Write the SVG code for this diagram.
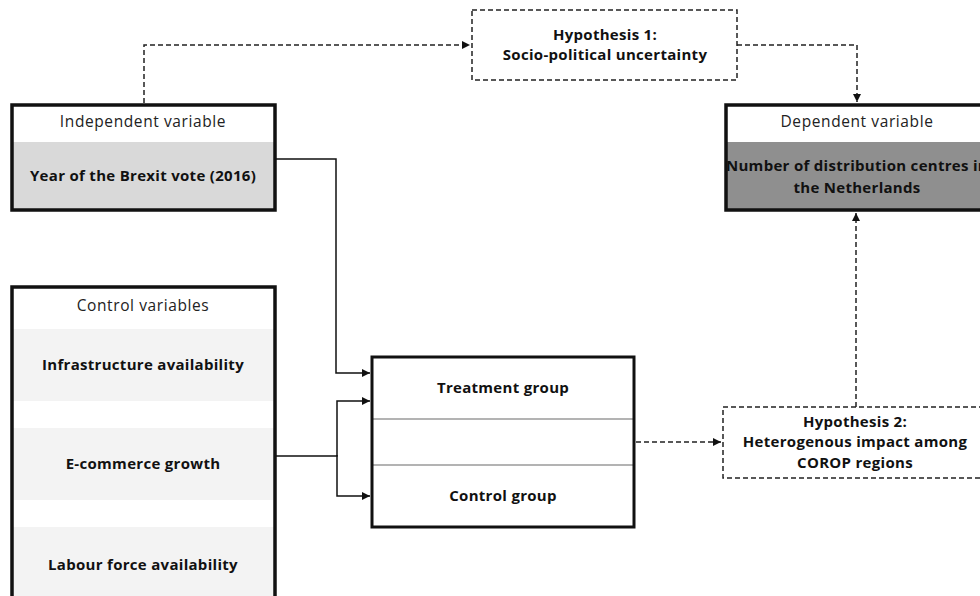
<svg xmlns="http://www.w3.org/2000/svg" width="980" height="596" viewBox="0 0 980 596">
<defs>
<marker id="ah" markerUnits="userSpaceOnUse" markerWidth="10" markerHeight="10" viewBox="0 0 10 10" refX="9" refY="5" orient="auto">
<path d="M1,1 L9,5 L1,9 Z" fill="#111"/>
</marker>
<clipPath id="depclip"><rect x="727" y="106" width="262" height="103"/></clipPath>
</defs>
<style>
.box{fill:none;stroke:#111;stroke-width:3.5}
.hyp{fill:#fff;stroke:#222;stroke-width:1.5;stroke-dasharray:5 3}
.t{font-family:"Open Sans","Noto Sans","Liberation Sans",sans-serif;font-size:15.5px;letter-spacing:0.6px;fill:#222;text-anchor:middle}
.b{font-family:"Open Sans","Noto Sans","Liberation Sans",sans-serif;font-size:15px;letter-spacing:0.3px;font-weight:700;fill:#111;text-anchor:middle}
.c{fill:none;stroke:#111;stroke-width:1.5}
.d{fill:none;stroke:#222;stroke-width:1.5;stroke-dasharray:5 3}
</style>
<rect width="980" height="596" fill="#fff"/>
<g id="connectors">
<path class="d" d="M144,103 V45 H470" marker-end="url(#ah)"/>
<path class="d" d="M737,45 H857 V102" marker-end="url(#ah)"/>
<path class="c" d="M276,159 H336 V373 H370" marker-end="url(#ah)"/>
<path class="c" d="M276,456 H337 V401 H370" marker-end="url(#ah)"/>
<path class="c" d="M337,455 V496 H370" marker-end="url(#ah)"/>
<path class="d" d="M636,442 H721" marker-end="url(#ah)"/>
<path class="d" d="M856,407 V213" marker-end="url(#ah)"/>
</g>
<g id="hypothesis1">
<rect class="hyp" x="472" y="10" width="265" height="70"/>
<text class="b" x="605" y="40">Hypothesis 1:</text>
<text class="b" x="605" y="60">Socio-political uncertainty</text>
</g>
<g id="independent">
<rect x="12" y="105" width="263" height="105" fill="#fff"/>
<rect x="12" y="142" width="263" height="68" fill="#d9d9d9"/>
<rect class="box" x="12" y="105" width="263" height="105"/>
<text class="t" x="143" y="127">Independent variable</text>
<text class="b" x="143" y="181">Year of the Brexit vote (2016)</text>
</g>
<g id="dependent">
<rect x="726" y="105" width="264" height="105" fill="#fff"/>
<rect x="726" y="142" width="264" height="68" fill="#8f8f8f"/>
<rect class="box" x="726" y="105" width="264" height="105"/>
<text class="t" x="857" y="127">Dependent variable</text>
<g clip-path="url(#depclip)">
<text class="b" x="857" y="171">Number of distribution centres in</text>
<text class="b" x="857" y="193">the Netherlands</text>
</g>
</g>
<g id="controls">
<rect x="12" y="287" width="263" height="320" fill="#fff"/>
<rect x="12" y="329" width="263" height="72" fill="#f3f3f3"/>
<rect x="12" y="428" width="263" height="72" fill="#f3f3f3"/>
<rect x="12" y="527" width="263" height="80" fill="#f3f3f3"/>
<rect class="box" x="12" y="287" width="263" height="320"/>
<text class="t" x="143" y="311">Control variables</text>
<text class="b" x="143" y="370">Infrastructure availability</text>
<text class="b" x="143" y="469">E-commerce growth</text>
<text class="b" x="143" y="570">Labour force availability</text>
</g>
<g id="groups">
<rect x="372" y="357" width="262" height="170" fill="#fff"/>
<line x1="373" y1="419" x2="633" y2="419" stroke="#9a9a9a" stroke-width="1.5"/>
<line x1="373" y1="465" x2="633" y2="465" stroke="#9a9a9a" stroke-width="1.5"/>
<rect x="372" y="357" width="262" height="170" fill="none" stroke="#111" stroke-width="3"/>
<text class="b" x="503" y="393">Treatment group</text>
<text class="b" x="503" y="501">Control group</text>
</g>
<g id="hypothesis2">
<rect class="hyp" x="723" y="407" width="265" height="71"/>
<text class="b" x="855" y="427">Hypothesis 2:</text>
<text class="b" x="855" y="447">Heterogenous impact among</text>
<text class="b" x="855" y="468">COROP regions</text>
</g>
</svg>
